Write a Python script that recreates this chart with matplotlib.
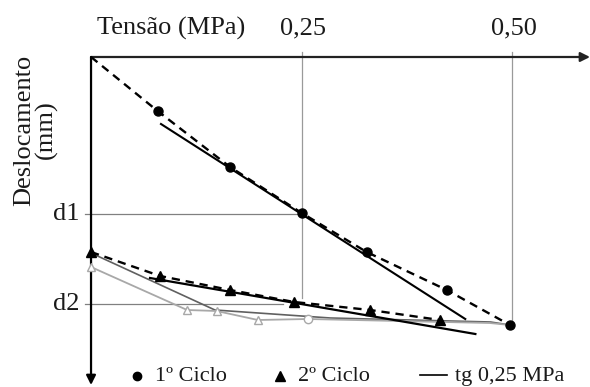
import matplotlib
matplotlib.use("Agg")
import matplotlib.pyplot as plt

plt.rcParams['font.family'] = ['Liberation Serif', 'DejaVu Serif']

# ---- data (tension in MPa, displacement in arbitrary mm, downwards) ----
x_ciclo1 = [0.0, 0.079, 0.165, 0.250, 0.327, 0.422, 0.497]
y_ciclo1 = [0.0, 0.54, 1.10, 1.56, 1.95, 2.33, 2.68]

x_tg1 = [0.083, 0.444]
y_tg1 = [0.67, 2.62]

x_ciclo2 = [0.0, 0.082, 0.165, 0.241, 0.331, 0.414]
y_ciclo2 = [1.95, 2.19, 2.33, 2.45, 2.53, 2.63]

x_tg2 = [0.070, 0.456]
y_tg2 = [2.21, 2.77]

x_desc1 = [0.0, 0.147, 0.284, 0.474, 0.497]
y_desc1 = [1.96, 2.53, 2.61, 2.65, 2.68]

x_desc2 = [0.0, 0.114, 0.149, 0.198, 0.257, 0.473, 0.497]
y_desc2 = [2.10, 2.53, 2.54, 2.63, 2.62, 2.66, 2.68]

x_ticks = [0.25, 0.50]
x_ticklabels = ["0,25", "0,50"]
d_levels = [1.57, 2.47]
d_labels = ["d1", "d2"]

# ---- figure ----
fig = plt.figure(figsize=(5.9, 3.87), dpi=100)
ax = fig.add_axes([0, 0, 1, 1])
ax.set_xlim(-0.108, 0.592)
ax.set_ylim(3.30, -0.57)
ax.axis('off')

txt_c = '#1a1a1a'
grid_c = '#9a9a9a'
# vertical reference lines
ax.plot([x_ticks[0], x_ticks[0]], [-0.05, 2.41], color=grid_c, lw=0.9, zorder=1)
ax.plot([x_ticks[1], x_ticks[1]], [-0.05, y_ciclo1[-1]], color=grid_c, lw=0.9, zorder=1)
# horizontal reference lines
ax.plot([-0.007, 0.25], [d_levels[0], d_levels[0]], color='#808080', lw=0.9, zorder=1)
ax.plot([-0.007, 0.228], [d_levels[1], d_levels[1]], color='#808080', lw=0.9, zorder=1)

# axes with arrows
ax.annotate('', xy=(0.592, 0), xytext=(0, 0),
            arrowprops=dict(arrowstyle='-|>', color='#222222', lw=1.6,
                            mutation_scale=14, shrinkA=0, shrinkB=0), zorder=2)
ax.annotate('', xy=(0, 3.28), xytext=(0, 0),
            arrowprops=dict(arrowstyle='-|>', color='black', lw=1.6,
                            mutation_scale=14, shrinkA=0, shrinkB=0), zorder=2)

# unloading / other gray curves
ax.plot(x_desc1, y_desc1, color='#606060', lw=1.2, zorder=3)
ax.plot(x_desc2, y_desc2, color='#a8a8a8', lw=1.3, zorder=3)
ax.plot(x_desc2[:4], y_desc2[:4], linestyle='none', marker='^', ms=6,
        mfc='white', mec='#a8a8a8', mew=1.0, zorder=4)
ax.plot([x_desc2[4]], [y_desc2[4]], linestyle='none', marker='o', ms=6,
        mfc='white', mec='#a8a8a8', mew=1.0, zorder=4)

# 1st cycle
ax.plot(x_ciclo1, y_ciclo1, color='black', lw=1.7, linestyle=(0, (3.5, 2.5)), zorder=5)
ax.plot(x_ciclo1[1:], y_ciclo1[1:], linestyle='none', marker='o', ms=6.5,
        color='black', zorder=6)
ax.plot(x_tg1, y_tg1, color='black', lw=1.5, zorder=5)

# 2nd cycle
ax.plot(x_ciclo2, y_ciclo2, color='black', lw=1.7, linestyle=(0, (3.5, 2.5)), zorder=5)
ax.plot(x_ciclo2, y_ciclo2, linestyle='none', marker='^', ms=6.5,
        color='black', zorder=6)
ax.plot(x_tg2, y_tg2, color='black', lw=1.6, zorder=5)

# texts
fs = 19
ax.text(0.007, -0.29, "Tensão (MPa)", fontsize=fs, ha='left', va='center', color=txt_c)
for xt, lab in zip(x_ticks, x_ticklabels):
    ax.text(xt + 0.002, -0.29, lab, fontsize=fs, ha='center', va='center', color=txt_c)
for yl, lab in zip(d_levels, d_labels):
    ax.text(-0.014, yl, lab, fontsize=fs, ha='right', va='center', color=txt_c)
ax.text(-0.066, 0.73, "Deslocamento\n(mm)", fontsize=fs, rotation=90,
        ha='center', va='center', linespacing=0.95, color=txt_c)

# legend (manual, bottom)
ly = 3.19
lfs = 16
ax.plot([(137 - 91) / 843], [ly], marker='o', ms=6, color='black', clip_on=False)
ax.text((155 - 91) / 843, ly, "1º Ciclo", fontsize=lfs, ha='left', va='center', color=txt_c)
ax.plot([(280 - 91) / 843], [ly], marker='^', ms=6.5, color='black', clip_on=False)
ax.text((298 - 91) / 843, ly, "2º Ciclo", fontsize=lfs, ha='left', va='center', color=txt_c)
ax.plot([(420 - 91) / 843, (447 - 91) / 843], [ly - 0.01, ly - 0.01], color='black', lw=1.2)
ax.text((455 - 91) / 843, ly, "tg 0,25 MPa", fontsize=lfs, ha='left', va='center', color=txt_c)

fig.savefig("out.png", dpi=100)
